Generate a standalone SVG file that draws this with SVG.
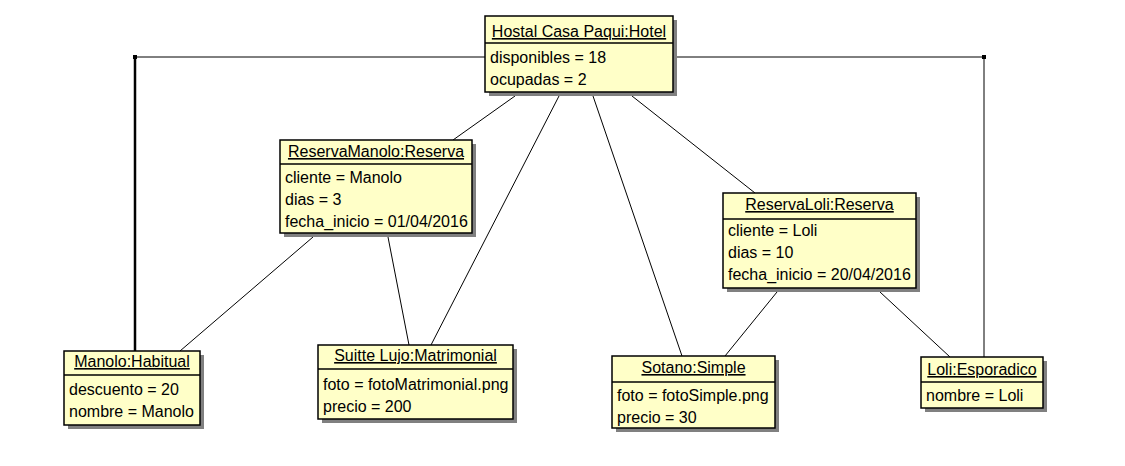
<svg xmlns="http://www.w3.org/2000/svg" width="1125" height="466" viewBox="0 0 1125 466">
<style>
.box{fill:#ffffc8;stroke:#000;stroke-width:1.5}
.shadow{fill:#808080}
.sep{stroke:#000;stroke-width:1.5}
.t{font-family:"Liberation Sans",Arial,sans-serif;font-size:16px;fill:#000}
.title{text-anchor:middle;text-decoration:underline}
.c{stroke:#000;stroke-width:1;fill:none}
</style>
<rect width="1125" height="466" fill="#fff"/>
<g id="connectors">
<polyline class="c" points="485,57 135,57 135,351" />
<line x1="135" y1="57" x2="135" y2="351" stroke="#000" stroke-width="2.5"/>
<polyline class="c" points="673,57 984,57 984,357" />
<rect x="133" y="55" width="4" height="4" fill="#000"/>
<rect x="982" y="55" width="4" height="4" fill="#000"/>
<line class="c" x1="515" y1="96" x2="453" y2="140"/>
<line class="c" x1="559" y1="96" x2="431" y2="345"/>
<line class="c" x1="593" y1="96" x2="682" y2="356"/>
<line class="c" x1="632" y1="96" x2="755" y2="193"/>
<line class="c" x1="313" y1="237" x2="180" y2="351"/>
<line class="c" x1="388" y1="237" x2="409" y2="345"/>
<line class="c" x1="777" y1="292" x2="725" y2="356"/>
<line class="c" x1="880" y1="292" x2="950" y2="357"/>
</g>
<g id="hotel">
<rect class="shadow" x="489" y="20" width="188" height="76"/>
<rect class="box" x="485" y="16" width="188" height="76"/>
<line class="sep" x1="485" y1="43" x2="673" y2="43"/>
<text class="t title" x="579" y="37">Hostal Casa Paqui:Hotel</text>
<text class="t" x="490" y="63">disponibles = 18</text>
<text class="t" x="490" y="85">ocupadas = 2</text>
</g>
<g id="reservaManolo">
<rect class="shadow" x="284" y="144" width="192" height="93"/>
<rect class="box" x="280" y="140" width="192" height="93"/>
<line class="sep" x1="280" y1="164" x2="472" y2="164"/>
<text class="t title" x="376" y="157">ReservaManolo:Reserva</text>
<text class="t" x="285" y="183">cliente = Manolo</text>
<text class="t" x="285" y="205">dias = 3</text>
<text class="t" x="285" y="227">fecha_inicio = 01/04/2016</text>
</g>
<g id="reservaLoli">
<rect class="shadow" x="727" y="197" width="193" height="95"/>
<rect class="box" x="723" y="193" width="193" height="95"/>
<line class="sep" x1="723" y1="219" x2="916" y2="219"/>
<text class="t title" x="819.5" y="210">ReservaLoli:Reserva</text>
<text class="t" x="728" y="236">cliente = Loli</text>
<text class="t" x="728" y="258">dias = 10</text>
<text class="t" x="728" y="280">fecha_inicio = 20/04/2016</text>
</g>
<g id="manolo">
<rect class="shadow" x="68" y="355" width="136" height="74"/>
<rect class="box" x="64" y="351" width="136" height="74"/>
<line class="sep" x1="64" y1="375" x2="200" y2="375"/>
<text class="t title" x="132" y="367">Manolo:Habitual</text>
<text class="t" x="69" y="395">descuento = 20</text>
<text class="t" x="69" y="417">nombre = Manolo</text>
</g>
<g id="suitte">
<rect class="shadow" x="322" y="349" width="195" height="74"/>
<rect class="box" x="318" y="345" width="195" height="74"/>
<line class="sep" x1="318" y1="369" x2="513" y2="369"/>
<text class="t title" x="415.5" y="361">Suitte Lujo:Matrimonial</text>
<text class="t" x="323" y="390">foto = fotoMatrimonial.png</text>
<text class="t" x="323" y="412">precio = 200</text>
</g>
<g id="sotano">
<rect class="shadow" x="616" y="360" width="163" height="72"/>
<rect class="box" x="612" y="356" width="163" height="72"/>
<line class="sep" x1="612" y1="382" x2="775" y2="382"/>
<text class="t title" x="693.5" y="373">Sotano:Simple</text>
<text class="t" x="617" y="401">foto = fotoSimple.png</text>
<text class="t" x="617" y="423">precio = 30</text>
</g>
<g id="loli">
<rect class="shadow" x="925" y="361" width="122" height="51"/>
<rect class="box" x="921" y="357" width="122" height="51"/>
<line class="sep" x1="921" y1="382" x2="1043" y2="382"/>
<text class="t title" x="982" y="375">Loli:Esporadico</text>
<text class="t" x="926" y="401">nombre = Loli</text>
</g>
</svg>
